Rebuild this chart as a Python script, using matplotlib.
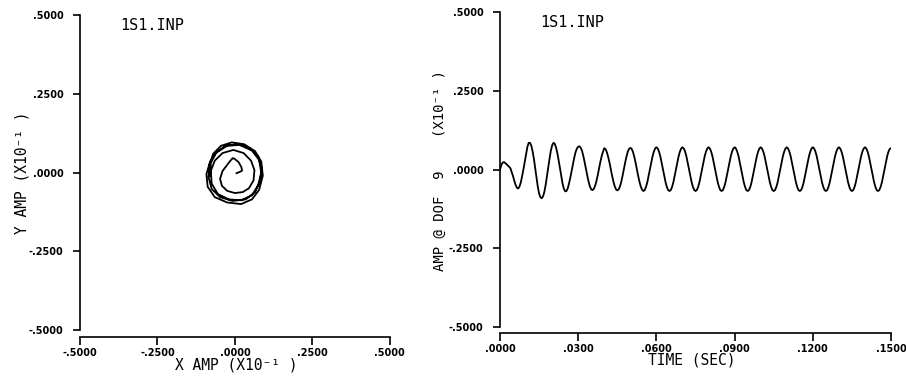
"""
Orbit (X/Y amplitude) and DOF 9 time history for case 1S1.INP.
Left: orbit plot, right: amplitude vs time.  Saves out.png.
"""

import matplotlib
matplotlib.use("Agg")
import matplotlib.pyplot as plt
import matplotlib.ticker as mticker
import numpy as np

CASE = "1S1.INP"
INK = "black"
MONO = "DejaVu Sans Mono"

# ---------------------------------------------------------------------------
# Data (units of X10^-1)
# ---------------------------------------------------------------------------

ORBIT_X = [
    0.005, 0.015, 0.023, 0.021, 0.012, 0.000, -0.007, -0.017, -0.027, -0.040,
    -0.048, -0.042, -0.025, 0.000, 0.025, 0.045, 0.060, 0.063, 0.052, 0.028,
    -0.005, -0.040,
    -0.065, -0.078, -0.075, -0.055, -0.020, 0.020, 0.055, 0.075, 0.085, 0.078,
    0.055, 0.015, -0.025, -0.058,
    -0.080, -0.092, -0.088, -0.065, -0.025, 0.020, 0.055, 0.078, 0.090, 0.085,
    0.065, 0.030, -0.010, -0.045, -0.070,
    -0.082, -0.085, -0.075, -0.048, -0.008, 0.035, 0.065, 0.082, 0.086, 0.075,
    0.048, 0.010, -0.030, -0.062, -0.078, -0.080,
]
ORBIT_Y = [
    -0.002, 0.002, 0.006, 0.017, 0.033, 0.043, 0.046, 0.035, 0.022, 0.005,
    -0.020, -0.042, -0.058, -0.065, -0.062, -0.050, -0.025, 0.008, 0.038, 0.062,
    0.072, 0.062,
    0.038, 0.005, -0.035, -0.068, -0.085, -0.088, -0.072, -0.040, 0.000, 0.040,
    0.070, 0.088, 0.085, 0.065,
    0.035, -0.005, -0.045, -0.078, -0.095, -0.100, -0.085, -0.055, -0.010, 0.035,
    0.068, 0.090, 0.096, 0.085, 0.060,
    0.025, -0.015, -0.052, -0.078, -0.090, -0.085, -0.062, -0.025, 0.015, 0.052,
    0.078, 0.090, 0.086, 0.062, 0.030, -0.010,
]

SAMPLE_DT = 0.0005   # sec between samples
DOF9_AMP = [
    # 0.000 - 0.040 : start-up transient
    0.000, 0.015, 0.022, 0.024, 0.021, 0.017, 0.013, 0.009, 0.004, -0.008,
    -0.021, -0.036, -0.049, -0.058, -0.060, -0.053, -0.040, -0.020, 0.002, 0.026,
    0.050, 0.072, 0.085, 0.085, 0.076, 0.058, 0.034, 0.005, -0.026, -0.055,
    -0.076, -0.088, -0.091, -0.085, -0.071, -0.049, -0.022, 0.007, 0.035, 0.060,
    0.077, 0.085, 0.082, 0.070, 0.052, 0.029, 0.004, -0.022, -0.045, -0.061,
    -0.069, -0.068, -0.059, -0.043, -0.024, -0.003, 0.018, 0.039, 0.056, 0.067,
    0.073, 0.074, 0.069, 0.058, 0.042, 0.022, 0.001, -0.020, -0.039, -0.054,
    -0.063, -0.065, -0.061, -0.051, -0.036, -0.017, 0.004, 0.025, 0.043, 0.057,
    # 0.040 - 0.150 : steady response, one row per cycle
    0.068, 0.065, 0.055, 0.040, 0.022, 0.001, -0.020, -0.038, -0.053, -0.063,
    -0.066, -0.063, -0.054, -0.039, -0.020, 0.001, 0.022, 0.041, 0.057, 0.066,
    0.069, 0.066, 0.056, 0.041, 0.022, 0.001, -0.020, -0.039, -0.054, -0.064,
    -0.068, -0.065, -0.055, -0.040, -0.020, 0.001, 0.022, 0.042, 0.057, 0.067,
    0.071, 0.067, 0.057, 0.042, 0.022, 0.001, -0.020, -0.040, -0.055, -0.065,
    -0.068, -0.065, -0.055, -0.040, -0.020, 0.001, 0.022, 0.042, 0.057, 0.067,
    0.071, 0.067, 0.057, 0.042, 0.022, 0.001, -0.020, -0.040, -0.055, -0.065,
    -0.068, -0.065, -0.055, -0.040, -0.020, 0.001, 0.022, 0.042, 0.057, 0.067,
    0.071, 0.067, 0.057, 0.042, 0.022, 0.001, -0.020, -0.040, -0.055, -0.065,
    -0.068, -0.065, -0.055, -0.040, -0.020, 0.001, 0.022, 0.042, 0.057, 0.067,
    0.071, 0.067, 0.057, 0.042, 0.022, 0.001, -0.020, -0.040, -0.055, -0.065,
    -0.068, -0.065, -0.055, -0.040, -0.020, 0.001, 0.022, 0.042, 0.057, 0.067,
    0.071, 0.067, 0.057, 0.042, 0.022, 0.001, -0.020, -0.040, -0.055, -0.065,
    -0.068, -0.065, -0.055, -0.040, -0.020, 0.001, 0.022, 0.042, 0.057, 0.067,
    0.071, 0.067, 0.057, 0.042, 0.022, 0.001, -0.020, -0.040, -0.055, -0.065,
    -0.068, -0.065, -0.055, -0.040, -0.020, 0.001, 0.022, 0.042, 0.057, 0.067,
    0.071, 0.067, 0.057, 0.042, 0.022, 0.001, -0.020, -0.040, -0.055, -0.065,
    -0.068, -0.065, -0.055, -0.040, -0.020, 0.001, 0.022, 0.042, 0.057, 0.067,
    0.071, 0.067, 0.057, 0.042, 0.022, 0.001, -0.020, -0.040, -0.055, -0.065,
    -0.068, -0.065, -0.055, -0.040, -0.020, 0.001, 0.022, 0.042, 0.057, 0.067,
    0.071, 0.067, 0.057, 0.042, 0.022, 0.001, -0.020, -0.040, -0.055, -0.065,
    -0.068, -0.065, -0.055, -0.040, -0.020, 0.001, 0.022, 0.042, 0.057, 0.066,
    0.068,
]

AMP_TICKS = [-0.5, -0.25, 0.0, 0.25, 0.5]
TIME_TICKS = [0.0, 0.03, 0.06, 0.09, 0.12, 0.15]


# ---------------------------------------------------------------------------
# Helpers
# ---------------------------------------------------------------------------

def plotter_fmt(v, _):
    # old plotter style: no leading zero, four decimals
    return f"{v:.4f}".replace("0.", ".", 1)


def style_axes(ax, xticks, yticks, xlim, drop):
    ax.set_xlim(*xlim)
    ax.set_ylim(-0.5, 0.5)
    ax.set_xticks(xticks)
    ax.set_yticks(yticks)
    ax.xaxis.set_major_formatter(mticker.FuncFormatter(plotter_fmt))
    ax.yaxis.set_major_formatter(mticker.FuncFormatter(plotter_fmt))
    ax.spines[["top", "right"]].set_visible(False)
    for side in ("left", "bottom"):
        ax.spines[side].set_linewidth(1.2)
        ax.spines[side].set_color(INK)
    ax.spines["bottom"].set_position(("outward", drop))
    ax.tick_params(axis="y", direction="out", length=5, width=1.2, pad=7,
                   labelsize=7, colors=INK)
    ax.tick_params(axis="x", direction="out", length=6, width=1.2, pad=2,
                   labelsize=7, colors=INK)
    for lab in ax.get_xticklabels() + ax.get_yticklabels():
        lab.set_fontweight("bold")
    ax.patch.set_visible(False)


# ---------------------------------------------------------------------------
# Plot
# ---------------------------------------------------------------------------

fig = plt.figure(figsize=(9.06, 3.77), dpi=100)
fig.patch.set_facecolor("white")

# ── left: orbit ──
ax1 = fig.add_axes([0.0883, 0.1247, 0.342, 0.835])
ax1.plot(ORBIT_X, ORBIT_Y, color=INK, lw=1.3, solid_joinstyle="round")
style_axes(ax1, AMP_TICKS, AMP_TICKS, (-0.5, 0.5), 5)
ax1.text(0.129, 0.968, CASE, transform=ax1.transAxes, ha="left", va="center",
         fontsize=11, family=MONO, color=INK)
ax1.text(0.503, -0.111, "X AMP (X10⁻¹ )", transform=ax1.transAxes,
         ha="center", va="center", fontsize=10.5, family=MONO, color=INK)
ax1.text(-0.187, 0.5, "Y AMP (X10⁻¹ )", transform=ax1.transAxes,
         ha="center", va="center", rotation=90, fontsize=10.5, family=MONO,
         color=INK)

# ── right: DOF 9 time history ──
ax2 = fig.add_axes([0.5519, 0.1326, 0.4316, 0.835])
time = np.arange(len(DOF9_AMP)) * SAMPLE_DT
ax2.plot(time, DOF9_AMP, color=INK, lw=1.3, solid_joinstyle="round")
style_axes(ax2, TIME_TICKS, AMP_TICKS, (0.0, 0.15), 4.3)
ax2.text(0.102, 0.968, CASE, transform=ax2.transAxes, ha="left", va="center",
         fontsize=11, family=MONO, color=INK)
ax2.text(0.491, -0.105, "TIME (SEC)", transform=ax2.transAxes,
         ha="center", va="center", fontsize=10.5, family=MONO, color=INK)
ax2.text(-0.153, 0.498, "AMP @ DOF  9    (X10⁻¹ )", transform=ax2.transAxes,
         ha="center", va="center", rotation=90, fontsize=10, family=MONO,
         color=INK)

fig.savefig("out.png", dpi=100, facecolor="white")
plt.close(fig)
